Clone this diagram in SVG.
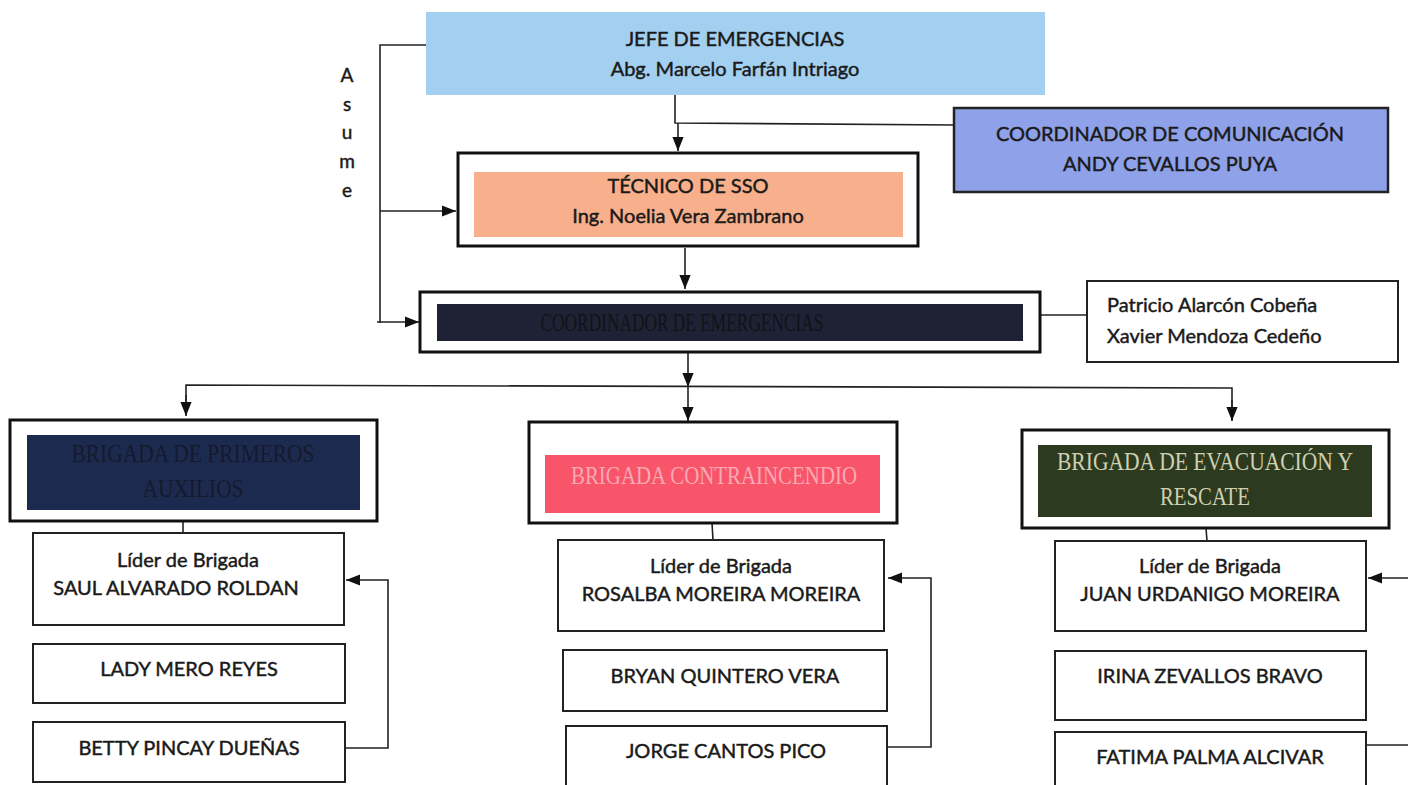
<svg xmlns="http://www.w3.org/2000/svg" width="1408" height="785" viewBox="0 0 1408 785">
<style>
.t{font-family:Lato,"Open Sans","Liberation Sans",sans-serif;font-size:20px;fill:#1a1a1a;stroke:#1a1a1a;stroke-width:0.45;text-anchor:middle}
.b{fill:#fff;stroke:#222;stroke-width:2}
.ob{fill:#fff;stroke:#111;stroke-width:3}
.s{font-family:"Liberation Serif","DejaVu Serif",serif;font-size:25px;text-anchor:middle}
.c{fill:none;stroke:#222;stroke-width:1.6}
</style>
<defs>
<marker id="ah2" viewBox="0 0 10 10" refX="10" refY="5" markerWidth="14" markerHeight="14" markerUnits="userSpaceOnUse" orient="auto"><path d="M0,1 L10,5 L0,9 z" fill="#111"/></marker>
</defs>
<rect width="1408" height="785" fill="#fff"/>

<g id="connectors">
<polyline class="c" points="426,45 380,45 380,323"/>
<line class="c" x1="380" y1="211" x2="456" y2="211" marker-end="url(#ah2)"/>
<line class="c" x1="377" y1="322" x2="419" y2="322" marker-end="url(#ah2)"/>
<polyline class="c" points="675,95 675,123 955,125"/>
<line class="c" x1="678" y1="123" x2="678" y2="151" marker-end="url(#ah2)"/>
<line class="c" x1="685" y1="248" x2="685" y2="289" marker-end="url(#ah2)"/>
<line class="c" x1="1040" y1="315" x2="1087" y2="315"/>
<line class="c" x1="688" y1="353" x2="688" y2="387" marker-end="url(#ah2)"/>
<polyline class="c" points="186,415 186,385 1232,388 1232,420"/>
<line class="c" x1="186" y1="395" x2="186" y2="416" marker-end="url(#ah2)"/>
<line class="c" x1="688" y1="385" x2="688" y2="421" marker-end="url(#ah2)"/>
<line class="c" x1="1232" y1="400" x2="1232" y2="421" marker-end="url(#ah2)"/>
<line class="c" x1="183" y1="521" x2="183" y2="533"/>
<line class="c" x1="712" y1="523" x2="713" y2="540"/>
<line class="c" x1="1206" y1="528" x2="1207" y2="541"/>
<polyline class="c" points="345,748 388,748 388,580 346,580" marker-end="url(#ah2)"/>
<polyline class="c" points="887,747 931,747 931,578 888,578" marker-end="url(#ah2)"/>
<polyline class="c" points="1366,745 1410,745"/>
<line class="c" x1="1410" y1="578" x2="1368" y2="578" marker-end="url(#ah2)"/>
</g>

<g id="asume">
<text class="t" x="347" y="82" style="font-size:19px">A</text>
<text class="t" x="347" y="111" style="font-size:19px">s</text>
<text class="t" x="347" y="139" style="font-size:19px">u</text>
<text class="t" x="347" y="168" style="font-size:19px">m</text>
<text class="t" x="347" y="197" style="font-size:19px">e</text>
</g>

<g id="jefe">
<rect x="426" y="12" width="619" height="83" fill="#a3d0f0"/>
<text class="t" x="735" y="46">JEFE DE EMERGENCIAS</text>
<text class="t" x="735" y="76">Abg. Marcelo Farfán Intriago</text>
</g>

<g id="comunicacion">
<rect x="954" y="108" width="434" height="84" fill="#8fa1e8" stroke="#222" stroke-width="2.5"/>
<text class="t" x="1170" y="141">COORDINADOR DE COMUNICACIÓN</text>
<text class="t" x="1170" y="171">ANDY CEVALLOS PUYA</text>
</g>

<g id="tecnico">
<rect class="ob" x="458" y="153" width="460" height="93"/>
<rect x="474" y="172" width="429" height="65" fill="#f8b08c"/>
<text class="t" x="688" y="193">TÉCNICO DE SSO</text>
<text class="t" x="688" y="223">Ing. Noelia Vera Zambrano</text>
</g>

<g id="coordinador">
<rect class="ob" x="420" y="292" width="620" height="60"/>
<rect x="437" y="304" width="586" height="37" fill="#1e2234"/>
<text class="s" x="682" y="331" fill="#111318" textLength="283" lengthAdjust="spacingAndGlyphs">COORDINADOR DE EMERGENCIAS</text>
</g>

<g id="apoyo">
<rect class="b" x="1087" y="281" width="311" height="81"/>
<text class="t" x="1107" y="312" style="text-anchor:start">Patricio Alarcón Cobeña</text>
<text class="t" x="1107" y="343" style="text-anchor:start">Xavier Mendoza Cedeño</text>
</g>

<g id="brigada1">
<rect class="ob" x="10" y="420" width="367" height="101"/>
<rect x="27" y="435" width="333" height="75" fill="#1d2a50"/>
<text class="s" x="193" y="462" fill="#141a2c" textLength="243" lengthAdjust="spacingAndGlyphs">BRIGADA DE PRIMEROS</text>
<text class="s" x="193" y="497" fill="#141a2c" textLength="101" lengthAdjust="spacingAndGlyphs">AUXILIOS</text>
</g>

<g id="brigada2">
<rect class="ob" x="529" y="422" width="368" height="101"/>
<rect x="545" y="455" width="335" height="58" fill="#f9556a"/>
<text class="s" x="714" y="484" fill="#f8a9b3" textLength="286" lengthAdjust="spacingAndGlyphs">BRIGADA CONTRAINCENDIO</text>
</g>

<g id="brigada3">
<rect class="ob" x="1022" y="430" width="367" height="98"/>
<rect x="1038" y="445" width="334" height="72" fill="#2c3a20"/>
<text class="s" x="1205" y="470" fill="#cfd0b0" textLength="296" lengthAdjust="spacingAndGlyphs">BRIGADA DE EVACUACIÓN Y</text>
<text class="s" x="1205" y="505" fill="#cfd0b0" textLength="90" lengthAdjust="spacingAndGlyphs">RESCATE</text>
</g>

<g id="lider1">
<rect class="b" x="33" y="533" width="311" height="92"/>
<text class="t" x="188" y="567">Líder de Brigada</text>
<text class="t" x="176" y="595">SAUL ALVARADO ROLDAN</text>
</g>
<g id="lady">
<rect class="b" x="33" y="644" width="312" height="59"/>
<text class="t" x="189" y="676">LADY MERO REYES</text>
</g>
<g id="betty">
<rect class="b" x="33" y="722" width="312" height="60"/>
<text class="t" x="189" y="755">BETTY PINCAY DUEÑAS</text>
</g>

<g id="lider2">
<rect class="b" x="558" y="540" width="326" height="91"/>
<text class="t" x="721" y="573">Líder de Brigada</text>
<text class="t" x="721" y="601">ROSALBA MOREIRA MOREIRA</text>
</g>
<g id="bryan">
<rect class="b" x="563" y="650" width="324" height="61"/>
<text class="t" x="725" y="683">BRYAN QUINTERO VERA</text>
</g>
<g id="jorge">
<rect class="b" x="566" y="726" width="321" height="62"/>
<text class="t" x="726" y="758">JORGE CANTOS PICO</text>
</g>

<g id="lider3">
<rect class="b" x="1055" y="541" width="311" height="90"/>
<text class="t" x="1210" y="573">Líder de Brigada</text>
<text class="t" x="1210" y="601">JUAN URDANIGO MOREIRA</text>
</g>
<g id="irina">
<rect class="b" x="1055" y="651" width="311" height="69"/>
<text class="t" x="1210" y="683">IRINA ZEVALLOS BRAVO</text>
</g>
<g id="fatima">
<rect class="b" x="1055" y="732" width="311" height="56"/>
<text class="t" x="1210" y="764">FATIMA PALMA ALCIVAR</text>
</g>
</svg>
